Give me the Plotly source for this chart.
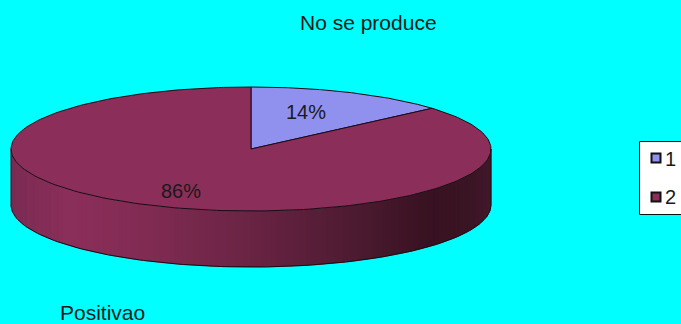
import numpy as np
import plotly.graph_objects as go

categories = ["1", "2"]
values = [13.6, 86.4]
percent_labels = ["14%", "86%"]
slice_colors = ["#9090EE", "#8B2E59"]
title_text = "No se produce"
footer_text = "Positivao"

W, H = 681, 324
CX, CY, RX, RY, DEPTH = 251, 149, 240, 62, 56
LINE = "#1c0a14"
FONT = "Liberation Sans, Arial, sans-serif"
TEXT = "#1a1a1a"
SHADE_X = [11, 20, 70, 150, 250, 350, 430, 470, 491]
SHADE_R = [122, 125, 139, 128, 106, 78, 56, 58, 66]
SHADE_G = [42, 43, 47, 43, 36, 27, 18, 20, 24]
SHADE_B = [82, 84, 90, 82, 68, 50, 33, 35, 42]


def rim(start, end, n=160):
    a = np.radians(np.linspace(start, end, n))
    return CX + RX * np.sin(a), CY - RY * np.cos(a)


fig = go.Figure()

# side wall, drawn as narrow strips shaded from left to right
edges = np.arange(CX - RX, CX + RX + 4, 4.0)
edges[-1] = CX + RX
for x0, x1 in zip(edges[:-1], edges[1:]):
    xs = np.linspace(x0, x1, 5)
    ys = CY + RY * np.sqrt(np.clip(1 - ((xs - CX) / RX) ** 2, 0, 1))
    mid = (x0 + x1) / 2
    col = "rgb({:.0f},{:.0f},{:.0f})".format(
        np.interp(mid, SHADE_X, SHADE_R),
        np.interp(mid, SHADE_X, SHADE_G),
        np.interp(mid, SHADE_X, SHADE_B),
    )
    fig.add_trace(go.Scatter(
        x=np.r_[xs, xs[::-1]], y=np.r_[ys, ys[::-1] + DEPTH],
        mode="lines", fill="toself", fillcolor=col,
        line=dict(color=col, width=0.6), hoverinfo="skip", showlegend=False))

# side outline
xo, yo = rim(90, 270)
fig.add_trace(go.Scatter(
    x=xo, y=yo + DEPTH, mode="lines",
    line=dict(color=LINE, width=1), hoverinfo="skip", showlegend=False))
for sx in (CX - RX, CX + RX):
    fig.add_trace(go.Scatter(
        x=[sx, sx], y=[CY, CY + DEPTH], mode="lines",
        line=dict(color=LINE, width=1), hoverinfo="skip", showlegend=False))

# top face: slices start at twelve o'clock and run clockwise
angles = np.cumsum([0] + values) / sum(values) * 360
for i, (name, color) in enumerate(zip(categories, slice_colors)):
    rx, ry = rim(angles[i], angles[i + 1], 240)
    fig.add_trace(go.Scatter(
        x=np.r_[CX, rx, CX], y=np.r_[CY, ry, CY], mode="lines", fill="toself",
        fillcolor=color, line=dict(color=LINE, width=1),
        name=name, hoverinfo="skip", showlegend=False))

# legend
fig.add_shape(type="rect", x0=639.5, y0=141.5, x1=690, y1=214.5, layer="below",
              fillcolor="white", line=dict(color="#111111", width=1))
fig.add_trace(go.Scatter(
    x=[656, 656], y=[158, 197], mode="markers",
    marker=dict(symbol="square", size=9, color=slice_colors,
                line=dict(color="#111111", width=2)),
    hoverinfo="skip", showlegend=False))

ann = [
    (368, 22, title_text, 21),
    (306, 112, percent_labels[0], 20),
    (181, 191, percent_labels[1], 20),
    (102, 312, footer_text, 21),
    (670, 159, categories[0], 20),
    (670, 197, categories[1], 20),
]
for x, y, t, s in ann:
    fig.add_annotation(x=x, y=y, text=t, showarrow=False, xanchor="center", yanchor="middle",
                       borderpad=0, borderwidth=0,
                       font=dict(family=FONT, size=s, color=TEXT))

fig.update_layout(
    width=W, height=H, autosize=False,
    margin=dict(l=0, r=0, t=0, b=0),
    paper_bgcolor="#00FFFF", plot_bgcolor="#00FFFF",
    xaxis=dict(range=[0, W], visible=False, fixedrange=True),
    yaxis=dict(range=[H, 0], visible=False, fixedrange=True),
)
fig.write_html("out.html", config=dict(displayModeBar=False),
               post_script="document.documentElement.style.overflow='hidden';document.body.style.margin='0';")
